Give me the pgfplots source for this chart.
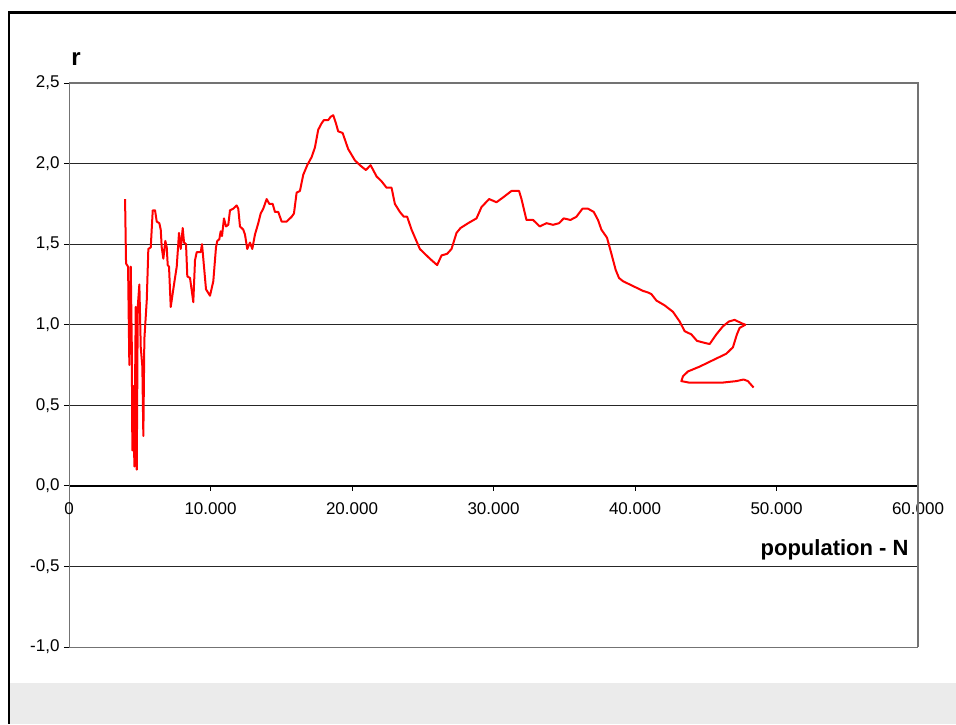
\documentclass[border=0pt]{standalone}
\usepackage{fontspec}
\setmainfont{Liberation Sans}
\usepackage{pgfplots}
\pgfplotsset{compat=1.18}
\begin{document}
\begin{tikzpicture}[x=1pt,y=1pt]
\useasboundingbox (0,0) rectangle (956,724);
\fill[gray!16] (10,0) rectangle (956,41);
\draw[black, line width=2.4pt] (8,711.5) -- (956,711.5);
\draw[black, line width=2pt] (8.5,712.5) -- (8.5,0);
\begin{axis}[
  at={(69pt,77pt)}, anchor=south west,
  scale only axis, width=849pt, height=564pt,
  xmin=0, xmax=60000, ymin=-1, ymax=2.5,
  axis x line*=middle, axis y line*=left,
  hide obscured x ticks=false,
  x axis line style={-, black, line width=1.6pt},
  y axis line style={-, gray!90!black, line width=1pt},
  xtick={0,10000,20000,30000,40000,50000,60000},
  ytick={-1,-0.5,0,0.5,1,1.5,2,2.5},
  scaled x ticks=false,
  tick align=outside,
  major tick length=5pt,
  tick style={black, line width=0.8pt},
  ymajorgrids, grid style={black!85, line width=0.8pt},
  /pgf/number format/assume math mode=true,
  xticklabel style={font=\fontsize{17}{18}\selectfont, yshift=-8pt, /pgf/number format/.cd, 1000 sep={.}},
  yticklabel style={font=\fontsize{17}{18}\selectfont, xshift=-1pt, /pgf/number format/.cd, fixed, fixed zerofill, precision=1, use comma},
  xlabel={population - N},
  ylabel={r},
  every axis x label/.style={at={(rel axis cs:0.993,0.2857)}, anchor=base east, yshift=-70pt, font=\bfseries\fontsize{22}{24}\selectfont},
  every axis y label/.style={at={(rel axis cs:0.0082,1)}, anchor=base, yshift=17pt, font=\bfseries\fontsize{24}{26}\selectfont},
  clip=false,
]
\addplot[red, line width=2pt, no marks, line join=round] coordinates {
(3962,1.78) (4032,1.38) (4174,1.36) (4265,0.75) (4364,1.36) (4435,0.89)
(4477,0.22) (4548,0.62) (4619,0.12) (4717,1.11) (4788,0.10) (4859,1.11)
(4972,1.25) (5071,0.86) (5184,0.74) (5254,0.31) (5325,0.91) (5494,1.15)
(5607,1.47) (5777,1.48) (5918,1.71) (6080,1.71) (6200,1.64) (6384,1.63)
(6483,1.59) (6554,1.48) (6667,1.41) (6808,1.52) (6907,1.48) (6977,1.37)
(7069,1.36) (7189,1.11) (7422,1.25) (7613,1.36) (7775,1.57) (7895,1.47)
(8037,1.60) (8129,1.51) (8270,1.50) (8361,1.30) (8552,1.29) (8693,1.20)
(8785,1.14) (8905,1.40) (9025,1.45) (9209,1.45) (9308,1.45) (9400,1.50)
(9541,1.36) (9682,1.22) (9965,1.18) (10198,1.27) (10388,1.48) (10480,1.52)
(10621,1.53) (10720,1.58) (10812,1.55) (10953,1.66) (11095,1.61) (11257,1.62)
(11377,1.71) (11610,1.72) (11850,1.74) (11963,1.72) (12083,1.61) (12316,1.59)
(12436,1.56) (12599,1.47) (12789,1.51) (12952,1.47) (13143,1.56) (13376,1.63)
(13545,1.69) (13729,1.72) (13969,1.78) (14153,1.75) (14392,1.75) (14555,1.70)
(14788,1.70) (15028,1.64) (15381,1.64) (15734,1.67) (15897,1.69) (16087,1.82)
(16320,1.83) (16553,1.93) (16836,1.99) (17147,2.04) (17380,2.10) (17613,2.21)
(17853,2.25) (18015,2.27) (18319,2.27) (18488,2.29) (18672,2.30) (18863,2.25)
(19025,2.20) (19336,2.19) (19731,2.09) (20205,2.02) (20558,1.99) (20981,1.96)
(21313,1.99) (21497,1.96) (21737,1.92) (22090,1.89) (22443,1.85) (22796,1.85)
(23029,1.75) (23382,1.70) (23665,1.67) (23898,1.67) (24209,1.59) (24795,1.47)
(25501,1.41) (26017,1.37) (26327,1.43) (26723,1.44) (27033,1.47) (27387,1.57)
(27669,1.60) (28206,1.63) (28799,1.66) (29152,1.73) (29689,1.78) (30211,1.76)
(30677,1.79) (31271,1.83) (31807,1.83) (31977,1.78) (32330,1.65) (32796,1.65)
(33269,1.61) (33742,1.63) (34208,1.62) (34632,1.63) (34964,1.66) (35437,1.65)
(35861,1.67) (36285,1.72) (36680,1.72) (37083,1.70) (37386,1.65) (37626,1.59)
(38022,1.54) (38333,1.44) (38636,1.34) (38869,1.29) (39152,1.27) (39858,1.24)
(40564,1.21) (40917,1.20) (41157,1.19) (41511,1.15) (42097,1.12) (42683,1.08)
(43156,1.02) (43509,0.96) (43982,0.94) (44378,0.90) (44802,0.89) (45275,0.88)
(45748,0.94) (46214,0.99) (46637,1.02) (47040,1.03) (47513,1.01) (47796,1.00)
(47393,0.98) (47202,0.94) (46920,0.86) (46454,0.82) (45508,0.78) (44569,0.74)
(43742,0.71) (43389,0.68) (43277,0.65) (43862,0.64) (44802,0.64) (46101,0.64)
(47160,0.65) (47676,0.66) (47979,0.65) (48382,0.61)
};
\draw[gray!90!black, line width=1.4pt] (rel axis cs:0,1) -- (rel axis cs:1,1) -- (rel axis cs:1,0);
\draw[gray!90!black, line width=1pt] (rel axis cs:0,0) -- (rel axis cs:1,0);
\end{axis}
\end{tikzpicture}
\end{document}
